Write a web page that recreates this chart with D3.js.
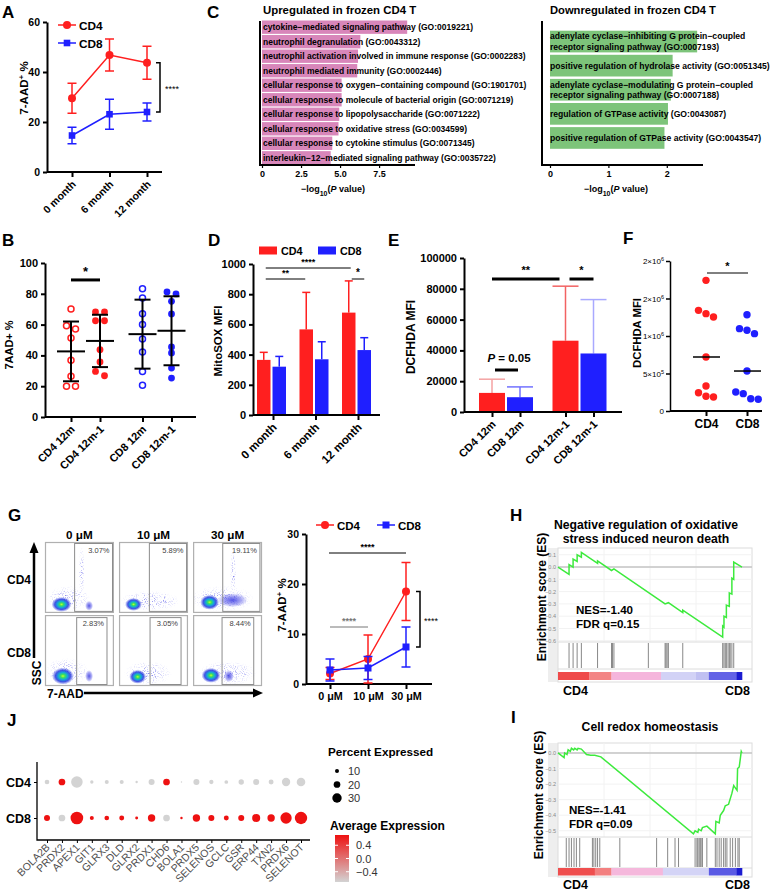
<!DOCTYPE html>
<html>
<head>
<meta charset="utf-8">
<script src="https://cdn.jsdelivr.net/npm/d3@7"></script>
<style>body{margin:0;background:#fff}svg{display:block}</style>
</head>
<body>
<div id="fig"></div>
<script>
const FONT = "'Liberation Sans', Arial, Helvetica, sans-serif";
const RED = '#ff1f1f', BLUE = '#1f1fff';

// ---- A: 7-AAD+ % over storage time
const monthCats = ['0 month', '6 month', '12 month'];
const aCD4 = [29.5, 46.8, 43.7];
const aCD4Sd = [6.0, 6.4, 6.6];
const aCD8 = [14.6, 23.1, 24.0];
const aCD8Sd = [3.3, 6.0, 3.6];

// ---- B: 7AAD+ % individual donors
const bCats = ['CD4 12m', 'CD4 12m-1', 'CD8 12m', 'CD8 12m-1'];
const bValues = [
  [70.1, 59.3, 57.1, 51.3, 36.8, 26.4, 19.9, 19.9],
  [68.2, 68.2, 62.5, 62.5, 43.7, 35.7, 29.6, 26.8],
  [83.3, 77.3, 67.1, 60.0, 50.6, 42.2, 29.6, 20.6],
  [81.2, 79.9, 75.1, 66.9, 45.5, 41.6, 31.8, 25.3]
];
const bMean = [42.6, 49.4, 53.8, 56.0];
const bSd = [19.4, 17.0, 22.4, 22.4];

// ---- C: GO enrichment
const upTerms = [
  'cytokine−mediated signaling pathway (GO:0019221)',
  'neutrophil degranulation (GO:0043312)',
  'neutrophil activation involved in immune response (GO:0002283)',
  'neutrophil mediated immunity (GO:0002446)',
  'cellular response to oxygen−containing compound (GO:1901701)',
  'cellular response to molecule of bacterial origin (GO:0071219)',
  'cellular response to lipopolysaccharide (GO:0071222)',
  'cellular response to oxidative stress (GO:0034599)',
  'cellular response to cytokine stimulus (GO:0071345)',
  'interleukin−12−mediated signaling pathway (GO:0035722)'
];
const upLogP = [9.3, 6.3, 6.15, 6.1, 5.1, 5.1, 4.95, 4.9, 4.5, 4.4];
const downTerms = [
  ['adenylate cyclase−inhibiting G protein−coupled', 'receptor signaling pathway (GO:0007193)'],
  ['positive regulation of hydrolase activity (GO:0051345)'],
  ['adenylate cyclase−modulating G protein−coupled', 'receptor signaling pathway (GO:0007188)'],
  ['regulation of GTPase activity (GO:0043087)'],
  ['positive regulation of GTPase activity (GO:0043547)']
];
const downLogP = [2.52, 2.1, 2.07, 2.02, 1.96];

// ---- D: MitoSOX MFI
const dCD4 = [365, 567, 678];
const dCD4Sd = [50, 245, 210];
const dCD8 = [320, 369, 430];
const dCD8Sd = [68, 116, 82];

// ---- E: DCFHDA MFI
const eCats = ['CD4 12m', 'CD8 12m', 'CD4 12m-1', 'CD8 12m-1'];
const eMean = [12400, 9600, 46300, 38000];
const eSd = [8900, 6700, 35400, 35000];

// ---- F: DCFHDA MFI donors
const fCD4 = [1742000, 1342000, 1298000, 1253000, 720000, 333000, 244000, 196000, 187000];
const fCD8 = [1284000, 1098000, 1076000, 1031000, 533000, 253000, 231000, 164000, 156000];
const fMedian = [720000, 533000];

// ---- G: H2O2 titration
const concCats = ['0 μM', '10 μM', '30 μM'];
const flowPct = { CD4: ['3.07%', '5.89%', '19.11%'], CD8: ['2.83%', '3.05%', '8.44%'] };
const gCD4 = [2.1, 5.0, 18.5];
const gCD4Sd = [1.2, 4.8, 5.8];
const gCD8 = [2.8, 3.2, 7.4];
const gCD8Sd = [2.2, 2.3, 4.0];

// ---- H / I: GSEA running enrichment score [rank fraction, ES]
const hCurve = [[0, 0], [.06, -.06], [.06, .02], [.082, 0], [.082, .065], [.104, .045], [.104, .10], [.127, .08], [.127, .12],
  [.215, .03], [.215, .05], [.291, -.028], [.304, -.015], [.582, -.30], [.600, -.29], [.678, -.37], [.678, -.35],
  [.895, -.57], [.895, -.48], [.902, -.49], [.902, -.40], [.915, -.41], [.915, -.31], [.931, -.32], [.931, -.21],
  [.945, -.22], [.945, -.09], [.955, -.10], [.955, .04], [1, 0]];
const hHits = [.06, .082, .104, .127, .215, .291, .296, .304, .491, .582, .587, .593, .6, .678, .895, .902, .909, .915, .924, .931, .936, .945, .955];
const iCurve = [[0, 0], [.033, -.03], [.036, 0], [.049, -.01], [.055, .02], [.067, .01], [.073, .03], [.085, .02], [.091, .03],
  [.104, .02], [.109, .03], [.127, .025], [.155, -.01], [.178, -.015], [.2, -.015], [.233, -.025], [.736, -.52],
  [.745, -.50], [.76, -.51], [.764, -.49], [.778, -.50], [.785, -.48], [.809, -.47], [.855, -.52], [.858, -.44],
  [.876, -.45], [.882, -.40], [.9, -.37], [.909, -.34], [.927, -.33], [.945, -.26], [.955, -.21], [.973, -.24],
  [.976, -.10], [.985, -.09], [.996, .01], [1, 0]];
const iHits = [.045, .06, .073, .087, .1, .118, .187, .195, .205, .215, .227, .336, .536, .596, .636, .655, .745, .755, .76,
  .767, .773, .778, .785, .809, .855, .864, .876, .887, .9, .909, .918, .936, .949, .964, .978, .985];
const hRankBar = [[0, .17, '#ef4a4a'], [.17, .29, '#f38585'], [.29, .56, '#f5b5dc'], [.56, .75, '#d2d2f6'], [.75, .82, '#c0c0f2'], [.82, .97, '#6363e6'], [.97, 1, '#1c1cd0']];
const iRankBar = [[0, .2, '#ef4e4e'], [.2, .29, '#f38080'], [.29, .57, '#f5b8dc'], [.57, .82, '#d4d4f6'], [.82, .97, '#5a5ae4'], [.97, 1, '#1c1cd0']];

// ---- J: dot plot
const jGenes = ['BOLA2B', 'PRDX2', 'APEX1', 'GIT1', 'GLRX3', 'DLD', 'GLRX2', 'PRDX1', 'CHD6', 'BOLA1', 'PRDX5', 'SELENOS', 'GCLC', 'GSR', 'ERP44', 'TXN2', 'PRDX6', 'SELENOT'];
const jPctCD4 = [12.5, 20, 38, 7.5, 10, 10, 4, 17.5, 20, 0.5, 17.5, 11, 9, 15, 17.5, 13.5, 26, 27];
const jPctCD8 = [17.5, 20, 42, 10, 12.5, 13.5, 6, 22.5, 20, 4, 22.5, 17.5, 13.5, 17.5, 25, 22.5, 37, 41];
const jAvgCD4 = [-.71, .71, -.71, -.71, -.71, -.71, -.71, -.71, .71, -.71, -.71, -.71, -.71, -.71, -.71, -.71, -.71, -.71];
const jAvgCD8 = [.71, -.71, .71, .71, .71, .71, .71, .71, -.71, .71, .71, .71, .71, .71, .71, .71, .71, .71];
const jSizeLegend = [10, 20, 30];
const jColorLegend = [0.4, 0.0, -0.4];

const svg = d3.select('#fig').append('svg')
  .attr('width', 776).attr('height', 891)
  .attr('font-family', FONT);
svg.append('rect').attr('width', 776).attr('height', 891).attr('fill', '#fff');
const defs = svg.append('defs');

// ---------- helpers
function txt(g, x, y, s, o = {}) {
  return g.append('text').attr('x', x).attr('y', y).text(s)
    .attr('font-size', o.fs || 11).attr('font-weight', o.fw || 'bold')
    .attr('text-anchor', o.anchor || 'start').attr('fill', o.fill || '#000')
    .attr('font-style', o.style || null);
}
function yLabel(g, x, y, parts, fs = 12) {
  const t = g.append('text').attr('transform', `translate(${x},${y}) rotate(-90)`)
    .attr('text-anchor', 'middle').attr('dy', '0.35em')
    .attr('font-size', fs).attr('font-weight', 'bold');
  parts.forEach(p => {
    const s = t.append('tspan').text(p.t);
    if (p.sup) s.attr('baseline-shift', 'super').attr('font-size', fs * 0.7);
    if (p.sub) s.attr('baseline-shift', 'sub').attr('font-size', fs * 0.7);
    if (p.it) s.attr('font-style', 'italic');
  });
  return t;
}
function prismY(g, y, x, ticks, fmt, fs = 11) {
  const a = g.append('g').attr('transform', `translate(${x},0)`)
    .call(d3.axisLeft(y).tickValues(ticks).tickFormat(fmt).tickSize(4).tickSizeOuter(0));
  a.select('.domain').attr('stroke-width', 2);
  a.selectAll('.tick line').attr('stroke-width', 2);
  a.selectAll('.tick text').attr('font-size', fs).attr('font-weight', 'bold')
    .attr('font-family', FONT).attr('fill', '#000');
  return a;
}
function prismX(g, x, y0, xa, xb, rotate, fs = 11) {
  g.append('line').attr('x1', xa).attr('x2', xb).attr('y1', y0).attr('y2', y0)
    .attr('stroke', '#000').attr('stroke-width', 2);
  const a = g.append('g').attr('transform', `translate(0,${y0})`)
    .call(d3.axisBottom(x).tickSize(5).tickSizeOuter(0));
  a.select('.domain').remove();
  a.selectAll('.tick line').attr('stroke-width', 2);
  const t = a.selectAll('.tick text').attr('font-size', fs).attr('font-weight', 'bold')
    .attr('font-family', FONT).attr('fill', '#000');
  if (rotate) t.attr('x', 0).attr('y', 0).attr('dy', 0).attr('text-anchor', 'end')
    .attr('transform', 'translate(4,13) rotate(-45)');
  return a;
}
function errBar(g, x, y1, y2, color, cap, w = 1.5, both = true) {
  g.append('line').attr('x1', x).attr('x2', x).attr('y1', y1).attr('y2', y2).attr('stroke', color).attr('stroke-width', w);
  g.append('line').attr('x1', x - cap / 2).attr('x2', x + cap / 2).attr('y1', y2).attr('y2', y2).attr('stroke', color).attr('stroke-width', w);
  if (both) g.append('line').attr('x1', x - cap / 2).attr('x2', x + cap / 2).attr('y1', y1).attr('y2', y1).attr('stroke', color).attr('stroke-width', w);
}
function marker(g, type, cx, cy, r, color) {
  if (type === 'square') g.append('rect').attr('x', cx - r).attr('y', cy - r).attr('width', 2 * r).attr('height', 2 * r).attr('fill', color);
  else g.append('circle').attr('cx', cx).attr('cy', cy).attr('r', r).attr('fill', color);
}
// symmetric horizontal spread of points that overlap vertically
function spread(vals, y, thr, gap) {
  const idx = vals.map((v, i) => i).sort((a, b) => vals[b] - vals[a]);
  const off = vals.map(() => 0);
  let cl = [idx[0]];
  const flush = () => cl.forEach((k, j) => { off[k] = (j - (cl.length - 1) / 2) * gap; });
  for (let j = 1; j < idx.length; j++) {
    if (Math.abs(y(vals[idx[j]]) - y(vals[cl[cl.length - 1]])) < thr) cl.push(idx[j]);
    else { flush(); cl = [idx[j]]; }
  }
  flush();
  return off;
}
function sigLine(g, x1, x2, yy, label, w = 1, color = '#000', fs = 10) {
  g.append('line').attr('x1', x1).attr('x2', x2).attr('y1', yy).attr('y2', yy).attr('stroke', color).attr('stroke-width', w);
  txt(g, (x1 + x2) / 2, yy - 3, label, { fs, anchor: 'middle', fill: color });
}

// panel letters
[['A', 2, 18], ['B', 2, 246], ['C', 207, 18], ['D', 208, 246], ['E', 388, 246], ['F', 623, 244],
 ['G', 8, 521], ['H', 510, 521], ['I', 511, 723], ['J', 7, 726]]
  .forEach(([l, x, y]) => txt(svg, x, y, l, { fs: 17 }));

// ================= A
{
  const g = svg.append('g');
  const y = d3.scaleLinear().domain([0, 60]).range([172, 22]);
  const x = d3.scalePoint().domain(monthCats).range([72, 147]);
  prismY(g, y, 47, [0, 20, 40, 60], d3.format('d'), 10.5);
  prismX(g, x, 172, 47, 162, true, 10.5);
  const series = [
    { name: 'CD4', v: aCD4, sd: aCD4Sd, c: RED, m: 'circle', r: 4, ly: 25 },
    { name: 'CD8', v: aCD8, sd: aCD8Sd, c: BLUE, m: 'square', r: 3.3, ly: 43 }
  ];
  series.forEach(s => {
    g.append('path').attr('d', d3.line().x((d, i) => x(monthCats[i])).y(d => y(d))(s.v))
      .attr('fill', 'none').attr('stroke', s.c).attr('stroke-width', 1.5);
    s.v.forEach((v, i) => {
      errBar(g, x(monthCats[i]), y(v - s.sd[i]), y(v + s.sd[i]), s.c, 9);
      marker(g, s.m, x(monthCats[i]), y(v), s.r, s.c);
    });
    g.append('line').attr('x1', 58).attr('x2', 76).attr('y1', s.ly).attr('y2', s.ly).attr('stroke', s.c).attr('stroke-width', 1.5);
    marker(g, s.m, 67, s.ly, s.r, s.c);
    txt(g, 79, s.ly + 4.5, s.name, { fs: 11.8 });
  });
  g.append('path').attr('d', `M156,${y(aCD4[2])}H160V${y(aCD8[2])}H156`).attr('fill', 'none').attr('stroke', '#000').attr('stroke-width', 1.5);
  txt(g, 165, y((aCD4[2] + aCD8[2]) / 2) + 5, '****', { fs: 9, fw: 'normal' });
  yLabel(g, 24, 88, [{ t: '7-AAD' }, { t: '+', sup: true }, { t: ' %' }], 11.5);
}

// ================= B
{
  const g = svg.append('g');
  const y = d3.scaleLinear().domain([0, 100]).range([417, 263]);
  const grp = d3.scalePoint().domain(['CD4', 'CD8']).range([85.5, 157]);
  const xpos = c => grp(c.slice(0, 3)) + (c.endsWith('-1') ? 14.5 : -14.5);
  const x = d3.scaleOrdinal().domain(bCats).range(bCats.map(xpos));
  prismY(g, y, 45, [0, 20, 40, 60, 80, 100], d3.format('d'));
  prismX(g, x, 417, 45, 196, true);
  bCats.forEach((c, k) => {
    const col = c.startsWith('CD4') ? RED : BLUE;
    const open = !c.endsWith('-1');
    const off = spread(bValues[k], y, 5.5, 9);
    bValues[k].forEach((v, i) => {
      g.append('circle').attr('cx', x(c) + off[i]).attr('cy', y(v)).attr('r', open ? 3.0 : 3.4)
        .attr('fill', open ? 'none' : col).attr('stroke', col).attr('stroke-width', open ? 1.5 : 0);
    });
    errBar(g, x(c), y(bMean[k] - bSd[k]), y(bMean[k] + bSd[k]), '#000', 16, 2);
    g.append('line').attr('x1', x(c) - 14).attr('x2', x(c) + 14).attr('y1', y(bMean[k])).attr('y2', y(bMean[k]))
      .attr('stroke', '#000').attr('stroke-width', 2);
  });
  g.append('line').attr('x1', x(bCats[0])).attr('x2', x(bCats[1])).attr('y1', y(89)).attr('y2', y(89)).attr('stroke', '#000').attr('stroke-width', 3);
  txt(g, (x(bCats[0]) + x(bCats[1])) / 2, y(89) - 4, '*', { fs: 13, anchor: 'middle' });
  yLabel(g, 9, 345, [{ t: '7AAD+ %' }], 11);
}

// ================= C
{
  const g = svg.append('g');
  txt(g, 263, 14, 'Upregulated in frozen CD4 T', { fs: 11.4 });
  const x = d3.scaleLinear().domain([0, 9.8]).range([262, 415]);
  const y = d3.scaleBand().domain(upTerms).range([20.5, 164.5]).paddingInner(0.08);
  g.selectAll('rect.up').data(upTerms).join('rect').attr('class', 'up')
    .attr('x', x(0)).attr('y', d => y(d)).attr('height', y.bandwidth())
    .attr('width', (d, i) => x(upLogP[i]) - x(0)).attr('fill', '#d886ba');
  upTerms.forEach(t => txt(g, x(0) + 1, y(t) + y.bandwidth() / 2 + 3, t, { fs: 8.5 }));
  g.append('path').attr('d', 'M260,21V165H415').attr('fill', 'none').attr('stroke', '#000').attr('stroke-width', 2);
  const ax = g.append('g').attr('transform', 'translate(0,165)')
    .call(d3.axisBottom(x).tickValues([0, 2.5, 5, 7.5]).tickFormat(d => d === 0 ? '0' : d.toFixed(1)).tickSize(3));
  ax.select('.domain').remove();
  ax.selectAll('.tick line').attr('stroke-width', 1.2);
  ax.selectAll('.tick text').attr('font-size', 9).attr('font-weight', 'bold').attr('font-family', FONT).attr('fill', '#000');

  txt(g, 550, 14, 'Downregulated in frozen CD4 T', { fs: 11.2 });
  const x2 = d3.scaleLinear().domain([0, 2.62]).range([550, 703]);
  const y2 = d3.scaleBand().domain(downTerms.map((d, i) => i)).range([30.7, 148.8]).paddingInner(0.1);
  g.selectAll('rect.dn').data(downLogP).join('rect').attr('class', 'dn')
    .attr('x', x2(0)).attr('y', (d, i) => y2(i)).attr('height', y2.bandwidth())
    .attr('width', d => x2(d) - x2(0)).attr('fill', '#7dc47a');
  downTerms.forEach((lines, i) => {
    const cy = y2(i) + y2.bandwidth() / 2;
    lines.forEach((l, j) => txt(g, x2(0), cy + 3 + (j - (lines.length - 1) / 2) * 10.5, l, { fs: 8.6 }));
  });
  g.append('path').attr('d', 'M542,21V165H703').attr('fill', 'none').attr('stroke', '#000').attr('stroke-width', 2);
  const ax2 = g.append('g').attr('transform', 'translate(0,165)')
    .call(d3.axisBottom(x2).tickValues([0, 1, 2]).tickFormat(d3.format('d')).tickSize(3));
  ax2.select('.domain').remove();
  ax2.selectAll('.tick line').attr('stroke-width', 1.2);
  ax2.selectAll('.tick text').attr('font-size', 9).attr('font-weight', 'bold').attr('font-family', FONT).attr('fill', '#000');

  [[333, 192], [616, 192]].forEach(([cx, cy]) => {
    const t = g.append('text').attr('x', cx).attr('y', cy).attr('text-anchor', 'middle').attr('font-size', 9).attr('font-weight', 'bold');
    t.append('tspan').text('−log');
    t.append('tspan').text('10').attr('baseline-shift', 'sub').attr('font-size', 7);
    t.append('tspan').text('(');
    t.append('tspan').text('P').attr('font-style', 'italic');
    t.append('tspan').text(' value)');
  });
}

// ================= D
{
  const g = svg.append('g');
  const y = d3.scaleLinear().domain([0, 1000]).range([415, 264]);
  const x = d3.scalePoint().domain(monthCats).range([273, 358]);
  const sub = d3.scaleBand().domain(['CD4', 'CD8']).range([-16, 13]).paddingInner(0.13);
  const series = [{ k: 'CD4', v: dCD4, sd: dCD4Sd, c: RED }, { k: 'CD8', v: dCD8, sd: dCD8Sd, c: BLUE }];
  series.forEach(s => {
    s.v.forEach((v, i) => {
      const bx = x(monthCats[i]) + sub(s.k);
      errBar(g, bx + sub.bandwidth() / 2, y(v), y(v + s.sd[i]), s.c, 8, 1.5, false);
      g.append('rect').attr('x', bx).attr('y', y(v)).attr('width', sub.bandwidth()).attr('height', y(0) - y(v)).attr('fill', s.c);
    });
  });
  prismY(g, y, 253, [0, 200, 400, 600, 800, 1000], d3.format('d'));
  prismX(g, x, 415, 253, 380, true, 11.5);
  const rc = c => x(c) + sub('CD4') + sub.bandwidth() / 2;
  const bc = c => x(c) + sub('CD8') + sub.bandwidth() / 2;
  sigLine(g, rc(monthCats[0]) + 2, rc(monthCats[2]) + 2, 268, '****', 1, '#000', 9);
  sigLine(g, rc(monthCats[0]) + 2, rc(monthCats[1]) - 1, 279, '**', 1, '#000', 9);
  sigLine(g, rc(monthCats[2]) + 3, bc(monthCats[2]), 279, '*', 1, '#000', 10);
  [['CD4', RED, 259], ['CD8', BLUE, 318]].forEach(([n, c, lx]) => {
    g.append('rect').attr('x', lx).attr('y', 246.5).attr('width', 18).attr('height', 8).attr('fill', c);
    txt(g, lx + 22, 255, n, { fs: 10.8 });
  });
  yLabel(g, 218, 341, [{ t: 'MitoSOX MFI' }], 11.5);
}

// ================= E
{
  const g = svg.append('g');
  const y = d3.scaleLinear().domain([0, 100000]).range([412, 258]);
  const grp = d3.scalePoint().domain(['12m', '12m-1']).range([506, 579.5]);
  const xpos = c => grp(c.slice(4)) + (c.startsWith('CD4') ? -14 : 14);
  const x = d3.scaleOrdinal().domain(eCats).range(eCats.map(xpos));
  const barCol = [RED, BLUE, RED, BLUE];
  const errCol = ['#f4a2a2', '#7272ff', '#f26262', '#a9a9ff'];
  eCats.forEach((c, i) => {
    errBar(g, x(c), y(eMean[i]), y(eMean[i] + eSd[i]), errCol[i], 26, 1.5, false);
    g.append('rect').attr('x', x(c) - 13).attr('y', y(eMean[i])).attr('width', 26).attr('height', y(0) - y(eMean[i])).attr('fill', barCol[i]);
  });
  prismY(g, y, 464, [0, 20000, 40000, 60000, 80000, 100000], d3.format('d'));
  prismX(g, x, 412, 464, 622, true);
  g.append('line').attr('x1', x(eCats[0])).attr('x2', x(eCats[2]) - 6).attr('y1', 279).attr('y2', 279).attr('stroke', '#000').attr('stroke-width', 3);
  txt(g, (x(eCats[0]) + x(eCats[2]) - 6) / 2, 274, '**', { fs: 11, anchor: 'middle' });
  g.append('line').attr('x1', x(eCats[2]) + 4).attr('x2', x(eCats[3])).attr('y1', 279).attr('y2', 279).attr('stroke', '#000').attr('stroke-width', 3);
  txt(g, (x(eCats[2]) + 4 + x(eCats[3])) / 2, 274, '*', { fs: 11, anchor: 'middle' });
  g.append('line').attr('x1', x(eCats[0]) + 3).attr('x2', x(eCats[1]) - 2).attr('y1', 370).attr('y2', 370).attr('stroke', '#000').attr('stroke-width', 3);
  const pt = g.append('text').attr('x', 509).attr('y', 362).attr('text-anchor', 'middle').attr('font-size', 11.5).attr('font-weight', 'bold');
  pt.append('tspan').text('P').attr('font-style', 'italic');
  pt.append('tspan').text(' = 0.05');
  yLabel(g, 411, 337, [{ t: 'DCFHDA MFI' }], 12);
}

// ================= F
{
  const g = svg.append('g');
  const y = d3.scaleLinear().domain([0, 2000000]).range([411, 261]);
  const x = d3.scalePoint().domain(['CD4', 'CD8']).range([706, 747]);
  const ay = prismY(g, y, 670, [0, 500000, 1000000, 1500000, 2000000], d3.format('d'));
  ay.call(a => a.selectAll('.tick text').attr('x', -6));
  ay.selectAll('.tick text').attr('font-weight', 'normal').attr('font-size', 8).each(function (d) {
    const t = d3.select(this).text(null);
    if (d === 0) { t.text('0'); return; }
    const e = Math.floor(Math.log10(d));
    t.append('tspan').text(Math.round(d / 10 ** e) + '×10');
    t.append('tspan').text(e).attr('baseline-shift', 'super').attr('font-size', 5.5);
  });
  ay.selectAll('.tick line').attr('stroke-width', 1.5);
  ay.select('.domain').attr('stroke-width', 1.5);
  const ax = prismX(g, x, 411, 670, 762, false);
  ax.selectAll('.tick text').attr('font-size', 12);
  [['CD4', fCD4, RED, 0], ['CD8', fCD8, BLUE, 1]].forEach(([k, vals, c, i]) => {
    const off = spread(vals, y, 5.5, 7.5);
    vals.forEach((v, j) => g.append('circle').attr('cx', x(k) + off[j]).attr('cy', y(v)).attr('r', 3.7).attr('fill', c));
    g.append('line').attr('x1', x(k) - 13).attr('x2', x(k) + 14).attr('y1', y(fMedian[i])).attr('y2', y(fMedian[i])).attr('stroke', '#000').attr('stroke-width', 1.5);
  });
  sigLine(g, x('CD4') + 1, x('CD8') + 1, 273, '*', 1, '#000', 11);
  yLabel(g, 637, 333, [{ t: 'DCFHDA MFI' }], 11.3);
}

// ================= G flow
{
  const g = svg.append('g');
  const grads = {
    core: [[0, '#c0ff30', 1], [0.2, '#38e060', 1], [0.42, '#14a8d8', 1], [0.68, '#2236e0', 0.85], [1, '#3040e0', 0]],
    mid: [[0, '#2a2ae0', 0.8], [0.6, '#4444e6', 0.45], [1, '#4848e8', 0]],
    haze: [[0, '#3a3ae6', 0.8], [0.6, '#5050e8', 0.35], [1, '#5050e8', 0]]
  };
  Object.entries(grads).forEach(([id, stops]) => {
    const rg = defs.append('radialGradient').attr('id', 'fl-' + id);
    stops.forEach(([o, c, a]) => rg.append('stop').attr('offset', o).attr('stop-color', c).attr('stop-opacity', a));
  });
  // speckle texture for sparse event clouds
  const sp = defs.append('filter').attr('id', 'speckle').attr('x', 0).attr('y', 0).attr('width', 1).attr('height', 1);
  sp.append('feTurbulence').attr('type', 'fractalNoise').attr('baseFrequency', 0.9).attr('numOctaves', 1).attr('seed', 3).attr('result', 'n');
  sp.append('feColorMatrix').attr('in', 'n').attr('type', 'matrix')
    .attr('values', '0 0 0 0 0  0 0 0 0 0  0 0 0 0 0  4 0 0 0 -2.1').attr('result', 'm');
  sp.append('feComposite').attr('in', 'SourceGraphic').attr('in2', 'm').attr('operator', 'in');

  const col = d3.scaleBand().domain(concCats).range([45, 262]).paddingInner(0.07);
  const row = d3.scaleBand().domain(['CD4', 'CD8']).range([542, 686]).paddingInner(0.03);
  const gateL = { CD4: [0.43, 0.44, 0.43], CD8: [0.46, 0.45, 0.42] };
  const gateR = { CD4: [0.98, 0.98, 0.97], CD8: [0.9, 0.9, 0.88] };
  // blob layout: [row, col, fx, fy, rx, ry, kind]
  const blobs = [
    ['CD4', 0, .34, .8, 22, 13, 'haze'], ['CD4', 0, .53, .42, 3, 26, 'haze'], ['CD4', 0, .64, .9, 4, 5, 'mid'], ['CD4', 0, .24, .88, 10, 7.5, 'core'],
    ['CD4', 1, .45, .83, 30, 10, 'haze'], ['CD4', 1, .68, .83, 9, 5, 'haze'], ['CD4', 1, .21, .88, 8.5, 6.5, 'core'],
    ['CD4', 2, .42, .8, 32, 13, 'haze'], ['CD4', 2, .58, .45, 3, 26, 'haze'], ['CD4', 2, .57, .82, 15, 7, 'mid'], ['CD4', 2, .24, .85, 9.5, 7.5, 'core'],
    ['CD8', 0, .32, .8, 22, 14, 'haze'], ['CD8', 0, .64, .86, 4, 6, 'mid'], ['CD8', 0, .26, .86, 11, 8.5, 'core'],
    ['CD8', 1, .42, .82, 24, 12, 'haze'], ['CD8', 1, .27, .87, 8.5, 7, 'core'],
    ['CD8', 2, .5, .82, 30, 12, 'haze'], ['CD8', 2, .52, .86, 5, 6, 'mid'], ['CD8', 2, .26, .85, 9.5, 7.5, 'core']
  ];
  ['CD4', 'CD8'].forEach(r => concCats.forEach((c, i) => {
    const x0 = col(c), y0 = row(r), w = col.bandwidth(), h = row.bandwidth();
    const cell = g.append('g');
    const clipId = `clip-${r}-${i}`;
    defs.append('clipPath').attr('id', clipId).append('rect').attr('x', x0).attr('y', y0).attr('width', w).attr('height', h);
    cell.append('rect').attr('x', x0).attr('y', y0).attr('width', w).attr('height', h).attr('fill', '#fff');
    const bl = cell.append('g').attr('clip-path', `url(#${clipId})`);
    const hz = bl.append('g').attr('filter', 'url(#speckle)');
    blobs.filter(b => b[0] === r && b[1] === i).forEach(([, , fx, fy, rx, ry, kind]) => {
      (kind === 'haze' ? hz : bl).append('ellipse').attr('cx', x0 + fx * w).attr('cy', y0 + fy * h)
        .attr('rx', rx).attr('ry', ry).attr('fill', `url(#fl-${kind})`);
    });
    cell.append('rect').attr('x', x0 + 0.5).attr('y', y0 + 0.5).attr('width', w - 1).attr('height', h - 1).attr('fill', 'none').attr('stroke', '#b0b0b0').attr('stroke-width', 1.2);
    const gl = x0 + gateL[r][i] * w, gr = x0 + gateR[r][i] * w;
    const gt = y0 + (r === 'CD4' ? 1.5 : 2.5), gb = y0 + h - 1.5;
    cell.append('rect').attr('x', gl).attr('y', gt).attr('width', gr - gl).attr('height', gb - gt).attr('fill', 'none').attr('stroke', '#8c8c8c').attr('stroke-width', 1);
    txt(cell, gr - 3, y0 + 11, flowPct[r][i], { fs: 7.5, fw: 'normal', anchor: 'end', fill: '#444' });
  }));
  concCats.forEach(c => txt(g, col(c) + col.bandwidth() / 2, 539, c, { fs: 11.7, anchor: 'middle' }));
  ['CD4', 'CD8'].forEach(r => txt(g, 7, row(r) + 42, r, { fs: 12 }));
  g.append('line').attr('x1', 34).attr('x2', 34).attr('y1', 658).attr('y2', 551).attr('stroke', '#000').attr('stroke-width', 2.5);
  g.append('path').attr('d', 'M34,542L29.5,553H38.5Z').attr('fill', '#000');
  yLabel(g, 37, 673, [{ t: 'SSC' }], 12);
  txt(g, 47, 698, '7-AAD', { fs: 12 });
  g.append('line').attr('x1', 84).attr('x2', 254).attr('y1', 693).attr('y2', 693).attr('stroke', '#000').attr('stroke-width', 2.5);
  g.append('path').attr('d', 'M263,693L253,688.5V697.5Z').attr('fill', '#000');
}

// ================= G line chart
{
  const g = svg.append('g');
  const y = d3.scaleLinear().domain([0, 30]).range([684, 534]);
  const x = d3.scalePoint().domain(concCats).range([330, 406]);
  prismY(g, y, 306, [0, 10, 20, 30], d3.format('d'), 10.5);
  prismX(g, x, 684, 306, 432, false, 10.8);
  const series = [
    { name: 'CD4', v: gCD4, sd: gCD4Sd, c: RED, m: 'circle', r: 4, lx: 316 },
    { name: 'CD8', v: gCD8, sd: gCD8Sd, c: BLUE, m: 'square', r: 3.5, lx: 377 }
  ];
  series.forEach(s => {
    g.append('path').attr('d', d3.line().x((d, i) => x(concCats[i])).y(d => y(d))(s.v))
      .attr('fill', 'none').attr('stroke', s.c).attr('stroke-width', 1.5);
    s.v.forEach((v, i) => {
      errBar(g, x(concCats[i]), y(Math.max(0, v - s.sd[i])), y(v + s.sd[i]), s.c, 9);
      marker(g, s.m, x(concCats[i]), y(v), s.r, s.c);
    });
    g.append('line').attr('x1', s.lx).attr('x2', s.lx + 18).attr('y1', 525).attr('y2', 525).attr('stroke', s.c).attr('stroke-width', 1.5);
    marker(g, s.m, s.lx + 9, 525, s.r, s.c);
    txt(g, s.lx + 21, 529.5, s.name, { fs: 11.5 });
  });
  sigLine(g, x(concCats[0]) - 1, x(concCats[2]), 553, '****', 1, '#000', 9);
  sigLine(g, x(concCats[0]), x(concCats[1]), 627, '****', 1, '#777', 9);
  g.append('path').attr('d', `M416,${y(gCD4[2])}H420V${y(gCD8[2])}H416`).attr('fill', 'none').attr('stroke', '#000').attr('stroke-width', 1.5);
  txt(g, 424, y((gCD4[2] + gCD8[2]) / 2) + 5, '****', { fs: 9, fw: 'normal' });
  yLabel(g, 282, 605, [{ t: '7-AAD' }, { t: '+', sup: true }, { t: ' %' }], 11.5);
}

// ================= H / I GSEA
function gseaPanel(o) {
  const g = svg.append('g');
  const x = d3.scaleLinear().domain([0, 1]).range([558, 742]);
  const y = d3.scaleLinear().domain(o.es).range([o.plotBottom, o.plotTop]);
  g.append('rect').attr('x', 548).attr('y', o.plotTop).attr('width', 10).attr('height', o.frameBottom - o.plotTop).attr('fill', '#eeeeee');
  g.append('rect').attr('x', 558).attr('y', o.plotTop).attr('width', 194).attr('height', o.frameBottom - o.plotTop)
    .attr('fill', '#fff').attr('stroke', '#dcdcdc');
  o.ticks.forEach(t => g.append('line').attr('x1', 558).attr('x2', 752).attr('y1', y(t)).attr('y2', y(t)).attr('stroke', '#f2f2f2'));
  [0.25, 0.5, 0.75].forEach(t => g.append('line').attr('x1', x(t)).attr('x2', x(t)).attr('y1', o.plotTop).attr('y2', o.plotBottom).attr('stroke', '#f2f2f2'));
  g.append('line').attr('x1', 558).attr('x2', 752).attr('y1', y(0)).attr('y2', y(0)).attr('stroke', '#c4c4c4').attr('stroke-width', 1.5);
  [o.plotBottom, o.hitsBottom].forEach(v => g.append('line').attr('x1', 558).attr('x2', 752).attr('y1', v).attr('y2', v).attr('stroke', '#dcdcdc'));
  const ax = g.append('g').attr('transform', 'translate(557,0)')
    .call(d3.axisLeft(y).tickValues(o.ticks).tickFormat(d3.format('.1f')).tickSize(0).tickPadding(1));
  ax.select('.domain').remove();
  ax.selectAll('.tick text').attr('font-size', 5.5).attr('fill', '#888').attr('font-family', FONT);
  g.append('path').attr('d', d3.line().x(d => x(d[0])).y(d => y(d[1]))(o.curve))
    .attr('fill', 'none').attr('stroke', '#3dea3d').attr('stroke-width', 1.5);
  g.selectAll('line.hit').data(o.hits).join('line').attr('class', 'hit')
    .attr('x1', d => x(d)).attr('x2', d => x(d)).attr('y1', o.plotBottom + 1).attr('y2', o.hitsBottom - 1)
    .attr('stroke', '#6a6a6a').attr('stroke-width', 0.8);
  g.selectAll('rect.rk').data(o.bar).join('rect').attr('class', 'rk')
    .attr('x', d => x(d[0])).attr('width', d => x(d[1]) - x(d[0]) + 0.3)
    .attr('y', o.barTop).attr('height', o.barH).attr('fill', d => d[2]);
  o.title.forEach((l, i) => txt(g, o.titleX, o.titleY + i * 13.5, l, { fs: 12.2, anchor: 'middle' }));
  txt(g, o.nesX, o.nesY, o.nes, { fs: 11.6 });
  txt(g, o.nesX, o.nesY + 14, o.fdr, { fs: 11.6 });
  yLabel(g, o.labX, o.labY, [{ t: 'Enrichment score (ES)' }], 12);
  txt(g, 563, o.cdY, 'CD4', { fs: 12.5 });
  txt(g, 750, o.cdY, 'CD8', { fs: 12.5, anchor: 'end' });
}
gseaPanel({
  es: [-0.61, 0.155], plotTop: 548, plotBottom: 642, hitsBottom: 669, barTop: 672, barH: 8, frameBottom: 682,
  ticks: [0.1, 0, -0.1, -0.2, -0.3, -0.4, -0.5, -0.6], curve: hCurve, hits: hHits, bar: hRankBar,
  title: ['Negative regulation of oxidative', 'stress induced neuron death'], titleX: 646, titleY: 529,
  nes: 'NES=-1.40', fdr: 'FDR q=0.15', nesX: 576, nesY: 614, labX: 542, labY: 597, cdY: 695
});
gseaPanel({
  es: [-0.54, 0.064], plotTop: 743, plotBottom: 837, hitsBottom: 868, barTop: 868, barH: 7.5, frameBottom: 877,
  ticks: [0, -0.1, -0.2, -0.3, -0.4, -0.5], curve: iCurve, hits: iHits, bar: iRankBar,
  title: ['Cell redox homeostasis'], titleX: 650, titleY: 731,
  nes: 'NES=-1.41', fdr: 'FDR q=0.09', nesX: 569, nesY: 814, labX: 539, labY: 795, cdY: 889
});

// ================= J dot plot
{
  const g = svg.append('g');
  const x = d3.scalePoint().domain(jGenes).range([47, 301]);
  const y = d3.scalePoint().domain(['CD4', 'CD8']).range([782, 818]);
  const r = d3.scaleLinear().domain([10, 30]).range([2.0, 4.7]);
  const c = d3.scaleLinear().domain([-0.71, 0.71]).range(['#d3d3d3', '#ee1111']).interpolate(d3.interpolateRgb);
  const rows = [['CD4', jPctCD4, jAvgCD4], ['CD8', jPctCD8, jAvgCD8]];
  rows.forEach(([k, pct, avg]) => {
    g.selectAll(`circle.d${k}`).data(jGenes).join('circle').attr('class', `d${k}`)
      .attr('cx', d => x(d)).attr('cy', y(k))
      .attr('r', (d, i) => Math.max(0.6, r(pct[i]))).attr('fill', (d, i) => c(avg[i]));
  });
  g.append('path').attr('d', 'M37,762V840H310').attr('fill', 'none').attr('stroke', '#000').attr('stroke-width', 1.3);
  const ax = g.append('g').attr('transform', 'translate(0,840)').call(d3.axisBottom(x).tickSize(3));
  ax.select('.domain').remove();
  ax.selectAll('.tick text').attr('font-size', 10.5).attr('fill', '#4d4d4d').attr('font-family', FONT)
    .attr('x', 0).attr('y', 0).attr('dy', 0).attr('text-anchor', 'end').attr('transform', 'translate(3,8) rotate(-45)');
  const ay = g.append('g').attr('transform', 'translate(37,0)').call(d3.axisLeft(y).tickSize(3));
  ay.select('.domain').remove();
  ay.selectAll('.tick text').attr('font-size', 12.5).attr('font-weight', 'bold').attr('fill', '#000').attr('font-family', FONT);

  txt(g, 328, 756, 'Percent Expressed', { fs: 11.7 });
  const ls = d3.scalePoint().domain(jSizeLegend).range([771, 798]);
  jSizeLegend.forEach(p => {
    g.append('circle').attr('cx', 337).attr('cy', ls(p)).attr('r', r(p)).attr('fill', '#000');
    txt(g, 348, ls(p) + 4, p, { fs: 11, fw: 'normal', fill: '#333' });
  });
  txt(g, 330, 830, 'Average Expression', { fs: 12 });
  const grad = defs.append('linearGradient').attr('id', 'avgGrad').attr('x1', 0).attr('x2', 0).attr('y1', 1).attr('y2', 0);
  grad.append('stop').attr('offset', 0).attr('stop-color', '#d3d3d3');
  grad.append('stop').attr('offset', 1).attr('stop-color', '#ee1111');
  const cy = d3.scaleLinear().domain([-0.71, 0.71]).range([882, 835]);
  g.append('rect').attr('x', 335).attr('y', cy(0.71)).attr('width', 14).attr('height', cy(-0.71) - cy(0.71)).attr('fill', 'url(#avgGrad)');
  jColorLegend.forEach(v => {
    g.append('line').attr('x1', 335).attr('x2', 338).attr('y1', cy(v)).attr('y2', cy(v)).attr('stroke', '#fff');
    g.append('line').attr('x1', 346).attr('x2', 349).attr('y1', cy(v)).attr('y2', cy(v)).attr('stroke', '#fff');
    txt(g, 356, cy(v) + 4, d3.format('.1f')(v), { fs: 11, fw: 'normal', fill: '#333' });
  });
}
</script>
</body>
</html>
